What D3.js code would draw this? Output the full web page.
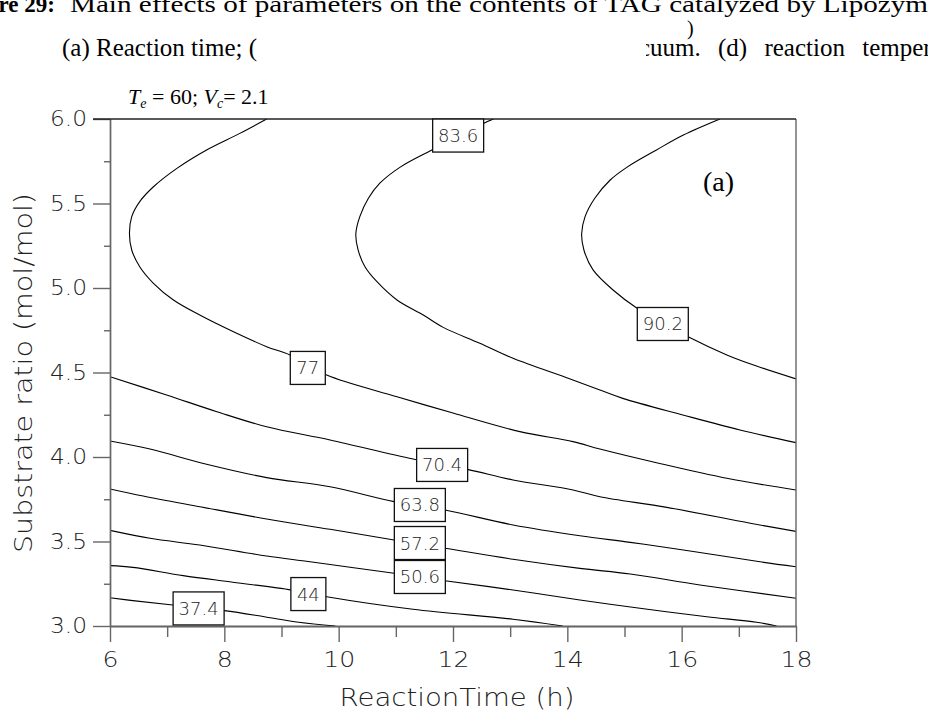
<!DOCTYPE html>
<html>
<head>
<meta charset="utf-8">
<script src="https://cdn.jsdelivr.net/npm/d3@7"></script>
<style>
  html, body { margin: 0; padding: 0; background: #fff; }
  svg { display: block; }
  .stroke-font { font-family: "DejaVu Sans", sans-serif; font-weight: 200; fill: #222; }
  .serif { font-family: "Liberation Serif", "Times New Roman", serif; fill: #000; }
</style>
</head>
<body>
<script>
// Axis tick values
const hourTicks = [6, 8, 10, 12, 14, 16, 18];
const hourMinorTicks = [7, 9, 11, 13, 15, 17];
const ratioTicks = [3.0, 3.5, 4.0, 4.5, 5.0, 5.5, 6.0];
const ratioMinorTicks = [3.25, 3.75, 4.25, 4.75, 5.25, 5.75];

// Contour levels (TAG content) and their iso-lines as [reaction time (h), substrate ratio]
const levels = [37.4, 44, 50.6, 57.2, 63.8, 70.4, 77, 83.6, 90.2];
const line374 = [[6.00,3.167],[6.40,3.150],[7.10,3.124],[8.00,3.091],[8.70,3.055],[9.30,3.022],[9.94,3.000]];
const line44  = [[6.00,3.357],[6.40,3.347],[7.28,3.298],[8.15,3.259],[9.18,3.213],[9.79,3.173],[11.30,3.099],[13.05,3.040],[13.92,3.000]];
const line506 = [[6.00,3.566],[6.70,3.519],[7.57,3.479],[8.74,3.414],[9.50,3.380],[10.97,3.312],[11.86,3.268],[13.05,3.213],[14.22,3.154],[15.27,3.105],[16.44,3.055],[17.31,3.022],[17.66,3.000]];
const line572 = [[6.00,3.811],[6.58,3.769],[7.57,3.706],[8.74,3.633],[9.85,3.572],[10.97,3.509],[11.86,3.460],[13.05,3.395],[14.22,3.341],[15.10,3.308],[16.32,3.243],[18.00,3.164]];
const line638 = [[6.00,4.095],[6.70,4.047],[7.69,3.957],[8.74,3.878],[9.85,3.824],[10.97,3.736],[11.86,3.686],[13.05,3.598],[14.22,3.534],[15.10,3.495],[16.03,3.450],[17.37,3.380],[18.00,3.351]];
const line704 = [[6.00,4.475],[6.99,4.367],[7.87,4.268],[8.74,4.179],[9.85,4.101],[11.30,3.988],[12.25,3.927],[13.05,3.864],[14.10,3.805],[14.57,3.765],[15.74,3.702],[17.20,3.608],[18.00,3.560]];
const line77  = [[8.74,6.000],[8.27,5.915],[7.69,5.817],[7.17,5.708],[6.76,5.599],[6.52,5.511],[6.38,5.422],[6.34,5.324],[6.38,5.225],[6.52,5.126],[6.76,5.028],[7.11,4.929],[7.57,4.840],[8.16,4.741],[8.74,4.653],[9.15,4.604],[9.79,4.485],[11.02,4.357],[12.00,4.260],[13.17,4.150],[14.10,4.091],[14.57,4.047],[15.56,3.966],[16.79,3.874],[18.00,3.805]];
const line836 = [[12.71,6.000],[12.54,5.975],[11.63,5.817],[11.07,5.714],[10.72,5.620],[10.52,5.531],[10.37,5.422],[10.30,5.320],[10.34,5.225],[10.46,5.126],[10.67,5.037],[11.02,4.929],[11.48,4.840],[11.83,4.767],[12.47,4.673],[13.05,4.584],[14.05,4.462],[14.57,4.396],[14.97,4.347],[16.02,4.249],[17.02,4.160],[18.00,4.085]];
const line902 = [[16.67,6.000],[16.03,5.905],[15.56,5.817],[15.04,5.714],[14.75,5.639],[14.48,5.531],[14.31,5.422],[14.25,5.320],[14.29,5.225],[14.45,5.107],[14.80,4.988],[15.22,4.880],[16.13,4.708],[16.79,4.604],[17.31,4.538],[18.00,4.462]];

// Where each level's label box sits on its line
const labelHour  = [7.55, 9.47, 11.42, 11.42, 11.42, 11.81, 9.46, 12.09, 15.67];
const labelRatio = [3.104, 3.189, 3.290, 3.491, 3.716, 3.953, 4.527, 5.902, 4.787];

const contourLines = [line374, line44, line506, line572, line638, line704, line77, line836, line902];
const contours = levels.map((level, i) => ({ level, points: contourLines[i], lh: labelHour[i], lr: labelRatio[i] }));

const W = 928, H = 718;
const plotLeft = 110, plotRight = 796, plotTop = 119, plotBottom = 626;

const svg = d3.select("body").append("svg").attr("width", W).attr("height", H);
const defs = svg.append("defs");

const x = d3.scaleLinear().domain([6, 18]).range([plotLeft, plotRight]);
const y = d3.scaleLinear().domain([3, 6]).range([plotBottom, plotTop]);

// ---- caption lines above the plot ----
svg.append("text").attr("class", "serif").attr("x", 55).attr("y", 12)
  .attr("text-anchor", "end").attr("font-size", 23).attr("font-weight", "bold")
  .text("Figure 29:");
svg.append("text").attr("class", "serif").attr("x", 70).attr("y", 12)
  .attr("font-size", 23)
  .attr("textLength", 858).attr("lengthAdjust", "spacingAndGlyphs")
  .text("Main effects of parameters on the contents of TAG catalyzed by Lipozym");
svg.append("text").attr("class", "serif").attr("x", 687).attr("y", 35)
  .attr("font-size", 20).text(")");
svg.append("text").attr("class", "serif").attr("x", 62).attr("y", 56)
  .attr("font-size", 25).text("(a) Reaction time; (");

defs.append("clipPath").attr("id", "capClip")
  .append("rect").attr("x", 646).attr("y", 38).attr("width", 300).attr("height", 30);
svg.append("text").attr("class", "serif").attr("x", 639).attr("y", 56)
  .attr("font-size", 25).attr("word-spacing", 11).attr("clip-path", "url(#capClip)")
  .text("cuum. (d) reaction temperature");

// ---- fixed-factor note ----
const note = svg.append("text").attr("class", "serif").attr("x", 128).attr("y", 104).attr("font-size", 22);
note.append("tspan").attr("font-style", "italic").text("T");
note.append("tspan").attr("font-style", "italic").attr("font-size", 14).attr("dy", 4).text("e");
note.append("tspan").attr("dy", -4).text(" = 60; ");
note.append("tspan").attr("font-style", "italic").text("V");
note.append("tspan").attr("font-style", "italic").attr("font-size", 14).attr("dy", 4).text("c");
note.append("tspan").attr("dy", -4).text("= 2.1");

// ---- contour lines ----
defs.append("clipPath").attr("id", "plotClip")
  .append("rect").attr("x", plotLeft).attr("y", plotTop)
  .attr("width", plotRight - plotLeft).attr("height", plotBottom - plotTop);

const line = d3.line()
  .x(d => x(d[0])).y(d => y(d[1]))
  .curve(d3.curveCatmullRom.alpha(0.5));

svg.append("g").attr("clip-path", "url(#plotClip)")
  .selectAll("path").data(contours).join("path")
  .attr("d", d => line(d.points))
  .attr("fill", "none").attr("stroke", "#000").attr("stroke-width", 1.1);

// ---- frame ----
svg.append("line").attr("x1", plotRight).attr("x2", plotRight).attr("y1", plotTop).attr("y2", plotBottom)
  .attr("stroke", "#666").attr("stroke-width", 1.4);

// ---- axes ----
const xMajor = svg.append("g").attr("transform", `translate(0,${plotBottom})`)
  .call(d3.axisBottom(x).tickValues(hourTicks).tickSize(16).tickSizeOuter(0).tickPadding(10).tickFormat(d3.format("d")));
const xMinor = svg.append("g").attr("transform", `translate(0,${plotBottom})`)
  .call(d3.axisBottom(x).tickValues(hourMinorTicks).tickSize(11).tickSizeOuter(0).tickFormat(""));
const yMajor = svg.append("g").attr("transform", `translate(${plotLeft},0)`)
  .call(d3.axisLeft(y).tickValues(ratioTicks).tickSize(17).tickSizeOuter(0).tickPadding(6).tickFormat(d3.format(".1f")));
const yMinor = svg.append("g").attr("transform", `translate(${plotLeft},0)`)
  .call(d3.axisLeft(y).tickValues(ratioMinorTicks).tickSize(6).tickSizeOuter(0).tickFormat(""));

[xMajor, xMinor, yMajor, yMinor].forEach(g => {
  g.selectAll(".tick line").attr("stroke", "#666").attr("stroke-width", 1.4);
  g.select(".domain").attr("stroke", "#666").attr("stroke-width", 1.4);
});
xMajor.select(".domain").attr("stroke", "#222");

xMajor.selectAll(".tick text")
  .attr("class", "stroke-font").attr("font-size", 21).attr("fill", "#222")
  .attr("dy", "0.71em")
  .each(function(d) {
    const s = String(d);
    d3.select(this).attr("textLength", s.length * 16).attr("lengthAdjust", "spacingAndGlyphs");
  });
yMajor.selectAll(".tick text")
  .attr("class", "stroke-font").attr("font-size", 21).attr("fill", "#222")
  .attr("textLength", 37).attr("lengthAdjust", "spacingAndGlyphs");

// top border drawn across, including the outward tick at 6.0
svg.append("line").attr("x1", plotLeft - 17).attr("x2", plotRight).attr("y1", plotTop).attr("y2", plotTop)
  .attr("stroke", "#222").attr("stroke-width", 1.4);

// ---- axis titles ----
svg.append("text").attr("class", "stroke-font")
  .attr("x", 457).attr("y", 706).attr("text-anchor", "middle").attr("font-size", 25)
  .attr("textLength", 235).attr("lengthAdjust", "spacingAndGlyphs")
  .text("ReactionTime (h)");
svg.append("text").attr("class", "stroke-font")
  .attr("transform", "translate(32,373) rotate(-90)")
  .attr("text-anchor", "middle").attr("font-size", 24)
  .attr("textLength", 360).attr("lengthAdjust", "spacingAndGlyphs")
  .text("Substrate ratio (mol/mol)");

// ---- contour labels ----
const fmt = v => String(v);
const labels = svg.append("g").selectAll("g").data(contours).join("g")
  .attr("transform", d => `translate(${x(d.lh)},${y(d.lr)})`);
labels.append("rect")
  .attr("x", d => fmt(d.level).length > 2 ? -25.5 : -17.5)
  .attr("y", -16.5)
  .attr("width", d => fmt(d.level).length > 2 ? 51 : 35)
  .attr("height", 33)
  .attr("fill", "#fff").attr("stroke", "#111").attr("stroke-width", 1.3);
labels.append("text").attr("class", "stroke-font")
  .attr("text-anchor", "middle").attr("dy", "0.36em").attr("font-size", 18)
  .attr("fill", "#000")
  .text(d => fmt(d.level));

// ---- panel tag ----
svg.append("text").attr("class", "serif").attr("x", 703).attr("y", 191)
  .attr("font-size", 28).text("(a)");
</script>
</body>
</html>
